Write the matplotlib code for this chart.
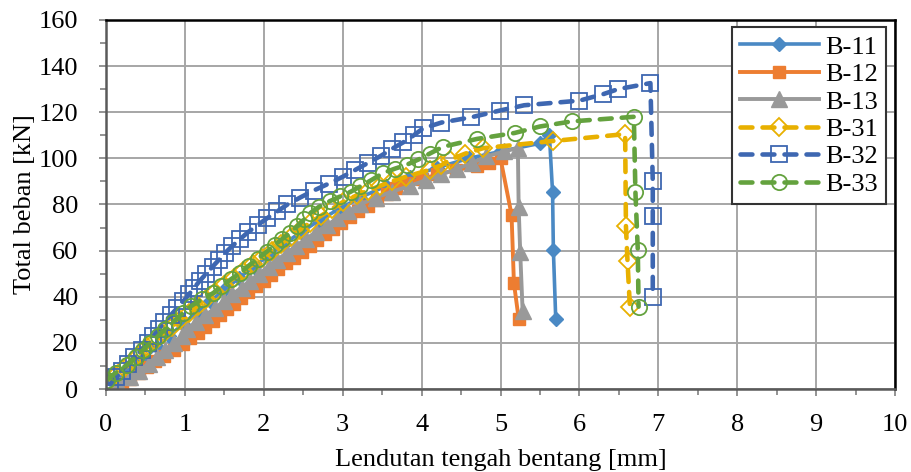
import numpy as np
import matplotlib.pyplot as plt
from matplotlib.ticker import MultipleLocator

plt.rcParams['font.family'] = ['Liberation Serif', 'DejaVu Serif']

# data -----------------------------------------------------------
labels = ["B-11", "B-12", "B-13", "B-31", "B-32", "B-33"]

b11_x = [0.1, 0.3, 0.47, 0.64, 0.8, 0.97, 1.14, 1.32, 1.5, 1.68, 1.87, 2.06, 2.26, 2.47,
         2.7, 2.95, 3.22, 3.55, 3.85, 4.2, 4.6, 5.0, 5.5, 5.62, 5.66, 5.67, 5.7]
b11_y = [3, 8, 13, 18, 23, 28, 33, 38, 43, 48, 53, 58, 63, 68,
         73, 78, 83, 88, 92, 96, 100, 103, 106.5, 110, 85.2, 60.4, 30.5]

b12_x = [0.2, 0.3, 0.42, 0.52, 0.62, 0.74, 0.86, 0.97, 1.07, 1.16, 1.25, 1.35, 1.44, 1.53,
         1.62, 1.71, 1.8, 1.9, 2.0, 2.09, 2.18, 2.28, 2.38, 2.48, 2.58, 2.68, 2.78, 2.88,
         2.98, 3.09, 3.2, 3.32, 3.44, 3.56, 3.68, 3.8, 4.0, 4.2, 4.44, 4.7, 4.85, 5.0,
         5.14, 5.17, 5.23]
b12_y = [2, 4.5, 7, 9.5, 12, 14.5, 17, 19.5, 22, 24.5, 27, 29.5, 32, 34.5,
         37, 39.5, 42, 44.5, 47, 49.5, 52, 54.5, 57, 59.5, 62, 64.5, 67, 69.5,
         72, 74.5, 77, 79.5, 82, 84.5, 87, 89.3, 91, 93, 95, 96.5, 98, 100,
         75.5, 46, 30.5]

b13_x = [0.15, 0.3, 0.42, 0.54, 0.64, 0.75, 0.86, 0.96, 1.03, 1.14, 1.26, 1.38, 1.49, 1.6,
         1.72, 1.83, 1.94, 2.06, 2.17, 2.29, 2.41, 2.53, 2.66, 2.8, 2.93, 3.07, 3.22, 3.42,
         3.62, 3.85, 4.05, 4.25, 4.45, 4.64, 4.82, 5.05, 5.22, 5.23, 5.25, 5.28]
b13_y = [2, 5, 8, 11, 14, 17, 20, 23, 26, 29, 32, 35, 38, 41,
         44, 47, 50, 53, 56, 59, 62, 65, 68, 71, 74, 77, 80, 83,
         85.5, 88, 90.5, 93, 95.5, 98, 100.8, 103, 104.5, 79, 59.2, 34]

b31_x = [0.02, 0.13, 0.23, 0.33, 0.42, 0.52, 0.62, 0.72, 0.83, 0.94, 1.05, 1.16, 1.27, 1.38,
         1.5, 1.62, 1.74, 1.86, 1.98, 2.1, 2.22, 2.34, 2.46, 2.58, 2.72, 2.86, 3.0, 3.18,
         3.32, 3.47, 3.62, 3.8, 4.1, 4.25, 4.36, 4.55, 4.78, 5.66, 6.58, 6.59, 6.61, 6.64]
b31_y = [3, 6, 9, 12, 15, 18, 21, 24, 27, 30, 33, 36, 39, 42,
         45, 48, 51, 54, 57, 60, 63, 66, 69, 72, 75, 78, 81, 84,
         86, 88, 90, 92, 95, 97, 99.4, 102, 104.4, 107.5, 110.5, 70.5, 55.3, 35.7]

b32_x = [0.05, 0.13, 0.2, 0.28, 0.36, 0.45, 0.53, 0.6, 0.67, 0.74, 0.82, 0.9, 0.98, 1.05,
         1.12, 1.19, 1.27, 1.35, 1.43, 1.51, 1.6, 1.7, 1.8, 1.92, 2.04, 2.17, 2.3, 2.46,
         2.63, 2.82, 3.0, 3.16, 3.32, 3.48, 3.62, 3.77, 3.9, 4.02, 4.25, 4.63, 4.99, 5.3,
         6.0, 6.3, 6.49, 6.9, 6.93, 6.93, 6.93]
b32_y = [2, 5, 8, 11, 14, 17, 20, 23, 26, 29, 32, 35, 38, 41,
         44, 47, 50, 53, 56, 59, 62, 65, 68, 71, 74, 77, 80, 83,
         86, 89, 92, 95, 98, 101, 104, 107, 110, 113, 115.5, 117.8, 120.7, 123,
         125, 127.8, 130, 132.6, 90, 75, 40]

b33_x = [0.01, 0.12, 0.27, 0.38, 0.47, 0.56, 0.66, 0.75, 0.85, 0.98, 1.08, 1.22, 1.36, 1.46,
         1.58, 1.7, 1.81, 1.92, 2.04, 2.14, 2.23, 2.33, 2.42, 2.51, 2.59, 2.7, 2.84, 2.97,
         3.1, 3.22, 3.36, 3.51, 3.66, 3.81, 3.96, 4.1, 4.27, 4.7, 5.18, 5.5, 5.9, 6.69,
         6.71, 6.74, 6.75]
b33_y = [4, 7, 10.6, 14, 17, 20, 23, 26, 29, 33, 36, 39, 41.6, 44.5,
         47.5, 50.3, 53.5, 56.5, 59.6, 62.5, 65, 67.6, 70.5, 73.5, 76.3, 79, 81.5, 83.5,
         85.5, 87.8, 90.5, 93.6, 95.5, 97.2, 99.5, 102, 105, 108.4, 111, 113.8, 116, 118,
         85.5, 60.4, 35.7]

# plot -----------------------------------------------------------
fig = plt.figure(figsize=(9.11, 4.72), dpi=100)
ax = fig.add_axes([0.1164, 0.1758, 0.866, 0.782])

dash = (2.6, 2.2)
ax.plot(b11_x, b11_y, color='#4a89c4', lw=2.6, marker='D', ms=7,
        mfc='#4a89c4', mec='#4a89c4', label=labels[0])
ax.plot(b12_x, b12_y, color='#ed7d31', lw=2.8, marker='s', ms=8.5,
        mfc='#ed7d31', mec='#ed7d31', label=labels[1])
ax.plot(b13_x, b13_y, color='#999999', lw=2.8, marker='^', ms=11,
        mfc='#999999', mec='#999999', label=labels[2])
ax.plot(b31_x, b31_y, color='#e8b000', lw=3.3, ls=(0, dash), dash_capstyle='round',
        marker='D', ms=9, mfc='none', mec='#e8b000', mew=1.3, label=labels[3])
ax.plot(b32_x, b32_y, color='#3e67b1', lw=3.3, ls=(0, dash), dash_capstyle='round',
        marker='s', ms=11, mfc='none', mec='#3e67b1', mew=1.3, label=labels[4])
ax.plot(b33_x, b33_y, color='#64a23e', lw=3.3, ls=(0, dash), dash_capstyle='round',
        marker='o', ms=11, mfc='none', mec='#64a23e', mew=1.3, label=labels[5])

ax.set_xlim(0, 10)
ax.set_ylim(0, 160)
ax.xaxis.set_major_locator(MultipleLocator(1))
ax.xaxis.set_minor_locator(MultipleLocator(0.5))
ax.yaxis.set_major_locator(MultipleLocator(20))
ax.yaxis.set_minor_locator(MultipleLocator(10))
ax.grid(True, which='major', color='#a6a6a6', lw=1.4)
ax.set_axisbelow(True)

ax.tick_params(which='both', direction='out', color='#808080', width=1.2, labelsize=19)
ax.tick_params(axis='x', which='major', length=5, pad=13)
ax.tick_params(axis='x', which='minor', length=4)
ax.tick_params(axis='y', which='major', length=5, pad=15)
ax.tick_params(axis='y', which='minor', length=4)

for s in ['top', 'right']:
    ax.spines[s].set_color('black')
    ax.spines[s].set_linewidth(1.8)
for s in ['left', 'bottom']:
    ax.spines[s].set_color('#5a5a5a')
    ax.spines[s].set_linewidth(1.8)

ax.set_xlabel("Lendutan tengah bentang [mm]", fontsize=19, labelpad=9)
ax.set_ylabel("Total beban [kN]", fontsize=19, labelpad=2)

leg = ax.legend(loc='upper right', bbox_to_anchor=(0.989, 0.98), fontsize=19,
                handlelength=3.0, handletextpad=0.25, labelspacing=0.15,
                borderpad=0.3, borderaxespad=0.0, fancybox=False, framealpha=1)
leg.get_frame().set_edgecolor('#333333')
leg.get_frame().set_linewidth(1.5)

fig.savefig("out.png", dpi=100)
